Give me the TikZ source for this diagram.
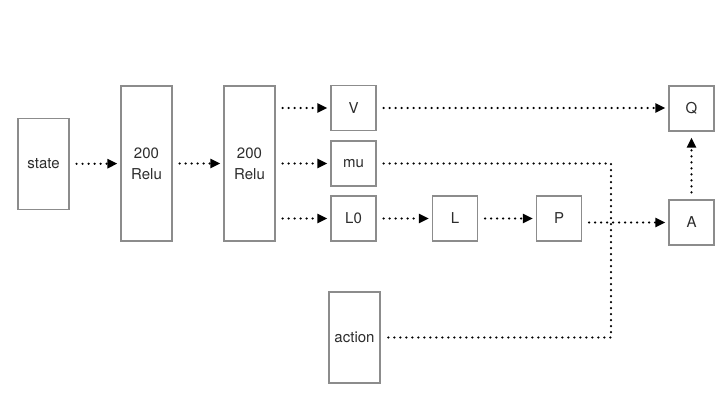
\documentclass[tikz,border=0pt]{standalone}
\usepackage{fontspec}
\setmainfont{TeX Gyre Heros}
\usepackage{xcolor}
\usetikzlibrary{arrows.meta}

\definecolor{boxgray}{RGB}{140,140,140}
\definecolor{txtgray}{RGB}{45,45,45}

\tikzset{
  box/.style={draw=boxgray, line width=1.2pt, fill=white, align=center,
    text=txtgray, inner sep=0pt, font=\fontsize{15}{21}\selectfont},
  layer/.style={box, minimum width=51pt, minimum height=155pt},
  unit/.style={box, minimum width=45pt, minimum height=45pt},
  input/.style={box, minimum width=51pt, minimum height=91pt},
  link/.style={line width=2.4pt, line cap=round, dash pattern=on 0pt off 6pt,
    shorten <=7pt, shorten >=7pt},
  flow/.style={link, -{Triangle[length=10pt,width=9pt]}, shorten >=3pt},
}

\begin{document}
\begin{tikzpicture}[x=1pt, y=-1pt]
\useasboundingbox (0,0) rectangle (720,417);

% layers
\node[input] (state) at (43.5,164) {state};
\node[layer] (relu1) at (146.5,163.5) {200\\Relu};
\node[layer] (relu2) at (249.5,163.5) {200\\Relu};

% heads
\node[unit] (V) at (353.5,108) {V};
\node[unit] (mu) at (353.5,163.5) {mu};
\node[unit] (L0) at (353.5,218.5) {L0};
\node[unit] (L) at (455,218.5) {L};
\node[unit] (P) at (559,218.5) {P};
\node[unit] (Q) at (691.5,108.5) {Q};
\node[unit] (A) at (691.5,222.5) {A};
\node[input] (action) at (354.5,337.5) {action};

\coordinate (jn) at (611,337.5);

% connections
\draw[flow] (state) -- (relu1);
\draw[flow] (relu1) -- (relu2);
\draw[flow] (relu2.east |- V) -- (V);
\draw[flow] (relu2.east |- mu) -- (mu);
\draw[flow] (relu2.east |- L0) -- (L0);
\draw[flow] (V) -- (Q.west |- V);
\draw[flow] (L0) -- (L);
\draw[flow] (L) -- (P);
\draw[flow] (P.east |- A) -- (A);
\draw[flow, shorten >=6pt] (A) -- (Q);
\draw[link] (mu) -| (jn) -- (action);
\end{tikzpicture}
\end{document}
